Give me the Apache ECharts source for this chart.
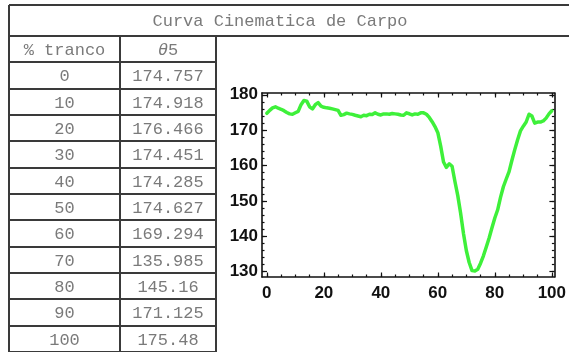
<!DOCTYPE html>
<html>
<head>
<meta charset="utf-8">
<script src="https://cdn.jsdelivr.net/npm/echarts@6/dist/echarts.min.js"></script>
<style>
  html, body { margin: 0; padding: 0; background: #ffffff; }
  #chart { width: 569px; height: 352px; }
</style>
</head>
<body>
<div id="chart"></div>
<script>
// Table + curve: carpal joint angle θ5 over the stride (% tranco)
const titleText = 'Curva Cinematica de Carpo';
const headerStride = '% tranco';
const headerAngle = '{i|θ}5';

// θ5 (degrees) at every 1 % of the stride, 0..100
const carpoAngle = [
  174.757, 175.6, 176.3, 176.6, 176.2, 175.9, 175.5, 175.0, 174.6, 174.5,
  174.918, 175.3, 177.2, 178.4, 178.2, 176.6, 176.0, 177.2, 177.8, 176.8,
  176.466, 176.3, 176.2, 176.0, 175.8, 175.6, 174.2, 174.4, 174.8, 174.6,
  174.451, 174.2, 174.0, 173.8, 174.2, 174.1, 174.5, 174.4, 174.9, 174.5,
  174.285, 174.6, 174.6, 174.5, 174.7, 174.6, 174.5, 174.3, 174.2, 174.9,
  174.627, 174.3, 174.6, 174.5, 174.9, 174.9, 174.5, 173.6, 172.4, 171.0,
  169.294, 165.5, 161.0, 159.5, 160.5, 159.8, 155.5, 151.5, 146.5, 140.8,
  135.985, 132.6, 130.3, 130.2, 130.7, 132.4, 134.5, 137.0, 139.5, 142.4,
  145.16, 147.5, 151.0, 154.0, 156.2, 158.3, 161.5, 164.5, 167.3, 169.8,
  171.125, 172.3, 174.5, 174.0, 172.0, 172.3, 172.3, 172.6, 173.4, 174.6,
  175.48
];
// rows listed in the table (% tranco)
const tableSteps = [0, 10, 20, 30, 40, 50, 60, 70, 80, 90, 100];

const xMajorTicks = [0, 20, 40, 60, 80, 100];
const xMinorTicks = [0, 5, 10, 15, 20, 25, 30, 35, 40, 45, 50, 55, 60, 65, 70, 75, 80, 85, 90, 95, 100];
const yMajorTicks = [130, 140, 150, 160, 170, 180];
const yMinorTicks = [130, 132, 134, 136, 138, 140, 142, 144, 146, 148, 150, 152, 154, 156, 158,
                     160, 162, 164, 166, 168, 170, 172, 174, 176, 178, 180];

const curveData = carpoAngle.map((v, i) => [i, v]);

// ---- table drawn as graphic elements ----
const mono = '17px "Liberation Mono", "Courier New", monospace';
const textGray = '#7a7a7a';
const rule = '#3a3a3a';
const colX = [9, 120, 216];
const titleTop = 5, headTop = 36, rowH = 26.33;
const graphics = [];
function hline(y, x1, x2) {
  graphics.push({ type: 'line', silent: true,
    shape: { x1: x1, y1: y, x2: x2, y2: y },
    style: { stroke: rule, lineWidth: 2 } });
}
function vline(x, y1, y2) {
  graphics.push({ type: 'line', silent: true,
    shape: { x1: x, y1: y1, x2: x, y2: y2 },
    style: { stroke: rule, lineWidth: 2 } });
}
function cellText(txt, cx, cy, rich) {
  graphics.push({ type: 'text', silent: true, x: cx, y: cy,
    style: { text: txt, font: mono, fill: textGray, align: 'center', verticalAlign: 'middle', rich: rich || {} } });
}
hline(titleTop, colX[0], 600);
hline(headTop, colX[0], 600);
vline(colX[0], titleTop, 360);
vline(colX[1], headTop, 360);
vline(colX[2], headTop, 360);
cellText(titleText, 280, (titleTop + headTop) / 2 + 1);
const rows = [[headerStride, headerAngle]].concat(
  tableSteps.map(s => [String(s), String(carpoAngle[s])]));
rows.forEach((r, i) => {
  const top = Math.round(headTop + i * rowH);
  const bot = Math.round(headTop + (i + 1) * rowH);
  hline(bot, colX[0], colX[2]);
  const cy = (top + bot) / 2 + 1;
  cellText(r[0], (colX[0] + colX[1]) / 2, cy);
  cellText(r[1], (colX[1] + colX[2]) / 2, cy,
    { i: { font: 'italic 17px "Liberation Mono", monospace', fill: textGray } });
});

// ---- plot ----
const frameColor = '#111111';
const labelStyle = { color: '#111111', fontFamily: '"Liberation Sans", Arial, sans-serif',
                     fontWeight: 'bold', fontSize: 17 };
const xRange = { min: -1.7, max: 100.9 };
const yRange = { min: 128.5, max: 180.5 };

function xAx(pos, ticks, len, withLine, withLabel) {
  return {
    type: 'value', position: pos, min: xRange.min, max: xRange.max,
    axisLine: { show: withLine, onZero: false, lineStyle: { color: frameColor, width: 1.6 } },
    axisTick: { show: true, inside: true, length: len, customValues: ticks,
                lineStyle: { color: frameColor, width: 1.2 } },
    axisLabel: withLabel ? Object.assign({ show: true, customValues: ticks, margin: 8 }, labelStyle)
                         : { show: false },
    splitLine: { show: false }
  };
}
function yAx(pos, ticks, len, withLine, withLabel) {
  return {
    type: 'value', position: pos, min: yRange.min, max: yRange.max,
    axisLine: { show: withLine, onZero: false, lineStyle: { color: frameColor, width: 1.6 } },
    axisTick: { show: true, inside: true, length: len, customValues: ticks,
                lineStyle: { color: frameColor, width: 1.2 } },
    axisLabel: withLabel ? Object.assign({ show: true, customValues: ticks, margin: 4 }, labelStyle)
                         : { show: false },
    splitLine: { show: false }
  };
}

const chart = echarts.init(document.getElementById('chart'), null, { renderer: 'canvas' });
chart.setOption({
  animation: false,
  backgroundColor: '#ffffff',
  grid: { left: 262, top: 93, width: 295, height: 184, containLabel: false },
  xAxis: [
    xAx('bottom', xMajorTicks, 4.5, true, true),
    xAx('bottom', xMinorTicks, 2.5, false, false),
    xAx('top', xMajorTicks, 4.5, true, false),
    xAx('top', xMinorTicks, 2.5, false, false)
  ],
  yAxis: [
    yAx('left', yMajorTicks, 5, true, true),
    yAx('left', yMinorTicks, 2.5, false, false),
    yAx('right', yMajorTicks, 5, true, false),
    yAx('right', yMinorTicks, 2.5, false, false)
  ],
  series: [{
    type: 'line',
    xAxisIndex: 0, yAxisIndex: 0,
    data: curveData,
    showSymbol: false,
    smooth: false,
    lineStyle: { color: '#3ef03a', width: 3.5, join: 'round', cap: 'round' }
  }],
  graphic: graphics
});
</script>
</body>
</html>
